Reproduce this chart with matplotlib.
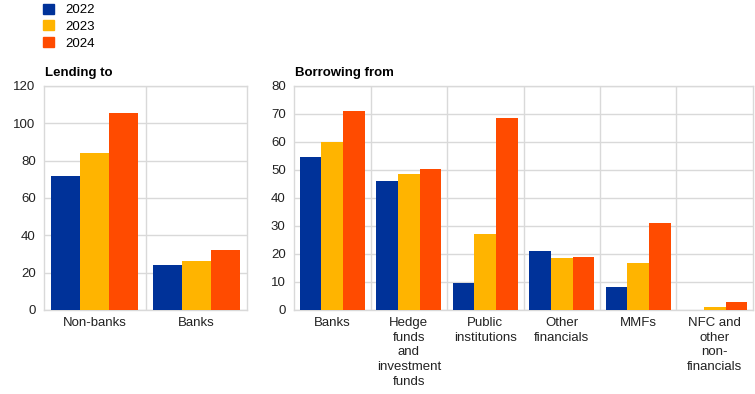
import numpy as np
import matplotlib
matplotlib.use("Agg")
import matplotlib.pyplot as plt
from matplotlib.patches import Patch

plt.rcParams['font.family'] = ['Liberation Sans', 'DejaVu Sans']
plt.rcParams['font.size'] = 9

years = ['2022', '2023', '2024']
colors = ['#003299', '#FFB400', '#FF4B00']

lend_cats = ['Non-banks', 'Banks']
lend_2022 = [72.0, 23.9]
lend_2023 = [84.2, 26.0]
lend_2024 = [105.6, 32.4]

borrow_cats = ['Banks', 'Hedge\nfunds\nand\ninvestment\nfunds', 'Public\ninstitutions',
               'Other\nfinancials', 'MMFs', 'NFC and\nother\nnon-\nfinancials']
borrow_2022 = [54.7, 46.1, 9.8, 21.2, 8.3, 0.0]
borrow_2023 = [60.1, 48.6, 27.0, 18.7, 16.7, 1.1]
borrow_2024 = [71.2, 50.4, 68.7, 19.1, 30.9, 3.0]

W, H = 755, 394
fig = plt.figure(figsize=(W / 100, H / 100), dpi=100)

grid_c = '#d9d9d9'


def panel(rect, cats, series, ymax, step, title):
    ax = fig.add_axes(rect)
    n = len(cats)
    x = np.arange(n)
    bw = 0.285
    for i, (vals, c) in enumerate(zip(series, colors)):
        ax.bar(x + (i - 1) * bw, vals, width=bw, color=c, zorder=3)
    ax.set_xlim(-0.5, n - 0.5)
    ax.set_ylim(0, ymax)
    ax.set_yticks(np.arange(0, ymax + 1, step))
    ax.set_xticks(x)
    ax.set_xticklabels(cats, linespacing=1.3, va='top')
    ax.set_xticks(np.arange(0.5, n - 0.5, 1), minor=True)
    ax.grid(True, axis='y', color=grid_c, lw=1, zorder=0)
    ax.grid(True, axis='x', which='minor', color=grid_c, lw=1, zorder=0)
    ax.tick_params(axis='both', which='both', length=0, labelsize=9.5, colors='#222222')
    ax.tick_params(axis='y', pad=6)
    ax.tick_params(axis='x', pad=5)
    for s in ax.spines.values():
        s.set_color(grid_c)
        s.set_linewidth(1)
    fig.text(rect[0] + 0.001, rect[1] + rect[3] + 0.017, title, fontweight='bold', fontsize=9.5,
             ha='left', va='bottom')
    return ax


panel([44 / W, 1 - 310 / H, (247 - 44) / W, (310 - 86) / H], lend_cats,
      [lend_2022, lend_2023, lend_2024], 120, 20, 'Lending to')
panel([294 / W, 1 - 310 / H, (753 - 294) / W, (310 - 86) / H], borrow_cats,
      [borrow_2022, borrow_2023, borrow_2024], 80, 10, 'Borrowing from')

handles = [Patch(color=c) for c in colors]
fig.legend(handles, years, loc='upper left', bbox_to_anchor=(38 / W, 1.004), frameon=False,
           handlelength=0.8, handleheight=0.8, handletextpad=0.9, labelspacing=0.3,
           fontsize=9.5, borderaxespad=0)

fig.savefig('out.png', dpi=100)
